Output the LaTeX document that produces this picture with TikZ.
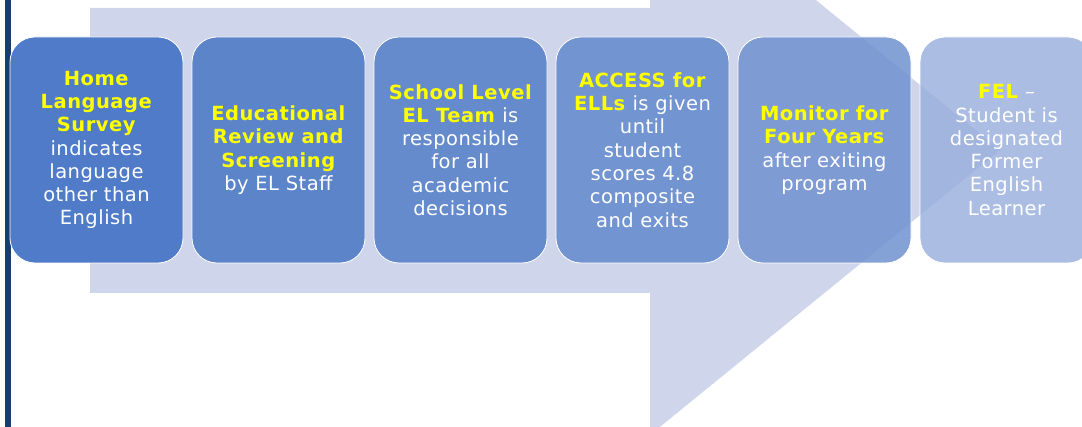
\documentclass[tikz,border=0pt]{standalone}
\usepackage{fontspec}
\setmainfont{DejaVu Sans}[LetterSpace=2.5]
\usetikzlibrary{positioning}
\definecolor{arrowfill}{RGB}{207,213,234}
\definecolor{edgebar}{RGB}{24,62,112}
\definecolor{hilite}{RGB}{255,255,0}
\definecolor{stepone}{RGB}{79,123,200}
\definecolor{steptwo}{RGB}{92,132,201}
\definecolor{stepthree}{RGB}{101,139,205}
\definecolor{stepfour}{RGB}{114,148,209}
\definecolor{stepfive}{RGB}{112,146,207}
\definecolor{stepsix}{RGB}{150,173,220}
\newcommand{\hl}[1]{\textcolor{hilite}{\textbf{#1}}}

\begin{document}
\begin{tikzpicture}[x=1pt, y=-1pt,
  node distance=9pt,
  stage/.style={draw=white, line width=0.8pt, rounded corners=25pt,
    minimum width=173pt, minimum height=226pt, inner sep=0pt, outer sep=0pt,
    align=center, text=white,
    font=\fontsize{19.5}{23.3}\selectfont},
  seethru/.style={stage, fill opacity=#1, text opacity=1},
]
\useasboundingbox (0,0) rectangle (1082,427);
\clip (0,0) rectangle (1082,427);
% big background arrow
\fill[arrowfill] (90,8) -- (650,8) -- (650,-135) -- (1000,150)
  -- (650,435) -- (650,293) -- (90,293) -- cycle;
\fill[edgebar] (5,0) rectangle (11,427);
% stages
\node[stage, fill=stepone] (HLS) at (96.5,150)
  {\hl{Home}\\\hl{Language}\\\hl{Survey}\\indicates\\language\\other than\\English};
\node[stage, fill=steptwo, right=of HLS] (ERS)
  {\hl{Educational}\\\hl{Review and}\\\hl{Screening}\\by EL Staff};
\node[stage, fill=stepthree, right=of ERS] (ELT)
  {\hl{School Level}\\\hl{EL Team} is\\responsible\\for all\\academic\\decisions};
\node[stage, fill=stepfour, right=of ELT] (ACC)
  {\hl{ACCESS for}\\\hl{ELLs} is given\\until\\student\\scores 4.8\\composite\\and exits};
\node[seethru=0.85, fill=stepfive, right=of ACC] (MON)
  {\hl{Monitor for}\\\hl{Four Years}\\after exiting\\program};
\node[seethru=0.8, fill=stepsix, right=of MON] (FEL)
  {\hl{FEL} --\\Student is\\designated\\Former\\English\\Learner};
\end{tikzpicture}
\end{document}
